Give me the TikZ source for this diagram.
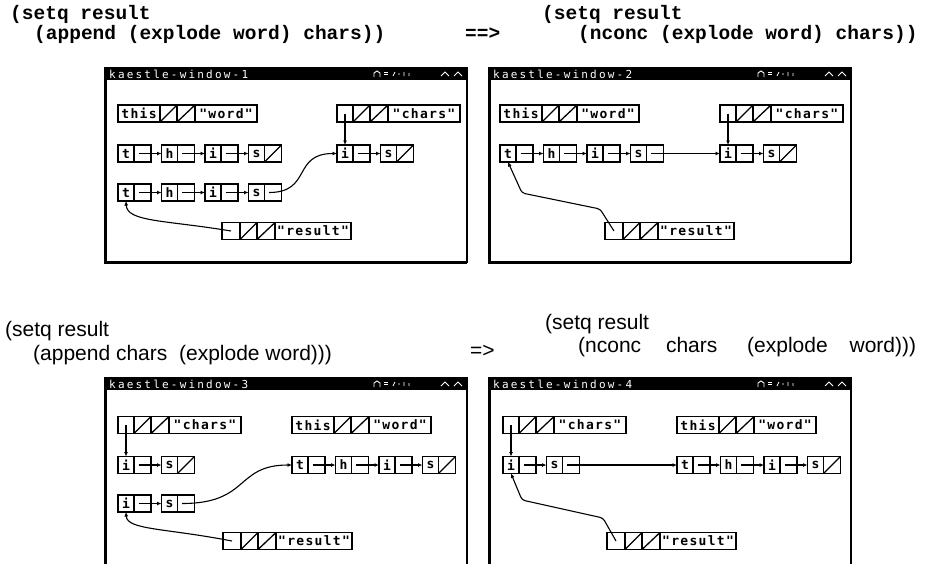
\documentclass[tikz,border=0pt]{standalone}
\usepackage{fontspec}
\setmainfont{Liberation Sans}
\newfontfamily\codefont{Liberation Mono}
\newfontfamily\cellfont[LetterSpace=10]{DejaVu Sans Mono}
\newfontfamily\barfont[LetterSpace=20]{DejaVu Sans Mono}
\usetikzlibrary{arrows.meta}

\tikzset{
  box/.style={draw, rectangle, line width=1.4pt, inner sep=0pt, outer sep=0pt,
    minimum height=17pt, font=\cellfont\fontsize{13}{13}\selectfont\bfseries},
  carbox/.style={box, minimum width=16pt},
  cdrbox/.style={box, minimum width=17pt},
  slashed/.style={path picture={\draw[line width=1.3pt]
      (path picture bounding box.south west) -- (path picture bounding box.north east);}},
  ptr/.style={line width=1.1pt, -{Latex[length=4.5pt,width=4pt]}},
  codetxt/.style={inner sep=0pt, anchor=base west,
    font=\codefont\fontsize{19.5}{20}\selectfont\bfseries},
  lisptxt/.style={inner sep=0pt, anchor=base west, font=\fontsize{21}{24}\selectfont},
  bartxt/.style={inner sep=0pt, anchor=west, text=white,
    font=\barfont\fontsize{11}{11}\selectfont},
}

% window frame: left, top, right, bottom, title node name, title
\newcommand\winframe[6]{%
  \draw[line width=1.8pt] (#1,#2) rectangle (#3,#4);
  \draw[line width=3pt] (#1,#2) -- (#1,#4) -- (#3,#4);
  \fill (#1,#2) rectangle (#3,#2+12);
  \node[bartxt] (#5) at (#1+4,#2+6.5) {#6};
  \draw[white, line width=0.9pt] (#3-93,#2+9) -- (#3-93,#2+5) -- (#3-90,#2+3)
       -- (#3-87,#2+5) -- (#3-87,#2+9);
  \draw[white, line width=0.8pt] (#3-83,#2+4) -- (#3-79,#2+4)
       (#3-83,#2+6) -- (#3-79,#2+6);
  \draw[white, line width=0.8pt] (#3-74,#2+8) -- (#3-72,#2+4)
       (#3-68,#2+5) -- (#3-68,#2+7) (#3-63,#2+4) -- (#3-63,#2+8)
       (#3-58,#2+5) -- (#3-58,#2+8);
  \draw[white, line width=0.9pt] (#3-26,#2+8) -- (#3-22,#2+4) -- (#3-18,#2+8)
       (#3-13,#2+8) -- (#3-9,#2+4) -- (#3-5,#2+8);
}

% cons cell: name, x, y, car text, extra cdr options
\newcommand\cons[5]{%
  \node[carbox, anchor=west] (#1) at (#2,#3) {#4};
  \node[cdrbox, #5, anchor=west] (#1d) at (#1.east) {};
}

% symbol: name, x, y, first width, first text, pname width, pname text
\newcommand\symbox[7]{%
  \node[box, minimum width=#4pt, anchor=west] (#1) at (#2,#3) {#5};
  \node[box, slashed, minimum width=17pt, anchor=west] (#1v) at (#1.east) {};
  \node[box, slashed, minimum width=18pt, anchor=west] (#1f) at (#1v.east) {};
  \node[box, minimum width=#6pt, anchor=west] (#1p) at (#1f.east) {#7};
}

\begin{document}
\begin{tikzpicture}[x=1pt,y=-1pt]
\useasboundingbox (0,0) rectangle (925,563);
\clip (0,0) rectangle (925,563);

% ---------- headings ----------
\node[codetxt] (hA1) at (10,19) {(setq result};
\node[codetxt] (hA2) at (34,39) {(append (explode word) chars))};
\node[codetxt] (hArr) at (465,39) {==>};
\node[codetxt] (hB1) at (542,19) {(setq result};
\node[codetxt] (hB2) at (578,39) {(nconc (explode word) chars))};

\node[lisptxt] (hC1) at (5,336) {(setq result};
\node[lisptxt] (hC2) at (33,360) {(append chars\ \ (explode word)))};
\node[lisptxt] (hDarr) at (470,357) {=>};
\node[lisptxt] (hD1) at (545,329) {(setq result};
\node[lisptxt] (hD2) at (578,352) {(nconc\hspace{19pt} chars\hspace{24pt} (explode\hspace{16pt} word)))};

% ---------- window 1: append (explode word) chars ----------
\winframe{105}{68}{467}{262}{wAtitle}{kaestle-window-1}
\symbox{wAthis}{118}{113.5}{42}{this}{62}{"word"}
\symbox{wAchr}{337}{113.5}{16}{}{72}{"chars"}
\cons{wAa1}{118}{153.5}{t}{}
\cons{wAa2}{161.5}{153.5}{h}{}
\cons{wAa3}{205}{153.5}{i}{}
\cons{wAa4}{248.5}{153.5}{s}{slashed}
\cons{wAc1}{337}{153.5}{i}{}
\cons{wAc2}{380.5}{153.5}{s}{slashed}
\cons{wAb1}{118}{192.5}{t}{}
\cons{wAb2}{161.5}{192.5}{h}{}
\cons{wAb3}{205}{192.5}{i}{}
\cons{wAb4}{248.5}{192.5}{s}{}
\symbox{wAres}{222}{231}{18}{}{76}{"result"}
\draw[ptr] ([xshift=-4pt]wAa1d.center) -- (wAa2.west);
\draw[ptr] ([xshift=-4pt]wAa2d.center) -- (wAa3.west);
\draw[ptr] ([xshift=-4pt]wAa3d.center) -- (wAa4.west);
\draw[ptr] ([xshift=-4pt]wAc1d.center) -- (wAc2.west);
\draw[ptr] ([xshift=-4pt]wAb1d.center) -- (wAb2.west);
\draw[ptr] ([xshift=-4pt]wAb2d.center) -- (wAb3.west);
\draw[ptr] ([xshift=-4pt]wAb3d.center) -- (wAb4.west);
\draw[ptr] (wAchr.center) -- (wAc1.north);
\draw[ptr] ([xshift=-4pt]wAb4d.center) .. controls (312,192.5) and (292,153.5) .. (wAc1.west);
\draw[ptr] (wAres.center) .. controls (165,220) and (127,222) .. (wAb1.south);

% ---------- window 2: nconc (explode word) chars ----------
\winframe{489}{68}{851}{262}{wBtitle}{kaestle-window-2}
\symbox{wBthis}{500}{113.5}{42}{this}{62}{"word"}
\symbox{wBchr}{720}{113.5}{16}{}{72}{"chars"}
\cons{wBa1}{500}{153.5}{t}{}
\cons{wBa2}{543.5}{153.5}{h}{}
\cons{wBa3}{587}{153.5}{i}{}
\cons{wBa4}{630.5}{153.5}{s}{}
\cons{wBc1}{720}{153.5}{i}{}
\cons{wBc2}{763.5}{153.5}{s}{slashed}
\symbox{wBres}{605}{231}{18}{}{76}{"result"}
\draw[ptr] ([xshift=-4pt]wBa1d.center) -- (wBa2.west);
\draw[ptr] ([xshift=-4pt]wBa2d.center) -- (wBa3.west);
\draw[ptr] ([xshift=-4pt]wBa3d.center) -- (wBa4.west);
\draw[ptr] ([xshift=-4pt]wBa4d.center) -- (wBc1.west);
\draw[ptr] ([xshift=-4pt]wBc1d.center) -- (wBc2.west);
\draw[ptr] (wBchr.center) -- (wBc1.north);
\draw[ptr, rounded corners=3pt] (wBres.center) -- (600,209) -- (522,193) -- (wBa1.south);

% ---------- window 3: append chars (explode word) ----------
\winframe{105}{378}{467}{572}{wCtitle}{kaestle-window-3}
\symbox{wCchr}{118}{425}{16}{}{72}{"chars"}
\symbox{wCthis}{292}{425}{42}{this}{62}{"word"}
\cons{wCc1}{118}{465}{i}{}
\cons{wCc2}{161.5}{465}{s}{slashed}
\cons{wCa1}{292}{465}{t}{}
\cons{wCa2}{335.5}{465}{h}{}
\cons{wCa3}{379}{465}{i}{}
\cons{wCa4}{422.5}{465}{s}{slashed}
\cons{wCb1}{118}{503.5}{i}{}
\cons{wCb2}{161.5}{503.5}{s}{}
\symbox{wCres}{223}{541}{18}{}{76}{"result"}
\draw[ptr] ([xshift=-4pt]wCc1d.center) -- (wCc2.west);
\draw[ptr] ([xshift=-4pt]wCa1d.center) -- (wCa2.west);
\draw[ptr] ([xshift=-4pt]wCa2d.center) -- (wCa3.west);
\draw[ptr] ([xshift=-4pt]wCa3d.center) -- (wCa4.west);
\draw[ptr] ([xshift=-4pt]wCb1d.center) -- (wCb2.west);
\draw[ptr] (wCchr.center) -- (wCc1.north);
\draw[ptr] ([xshift=-4pt]wCb2d.center) .. controls (250,503.5) and (235,465) .. (wCa1.west);
\draw[ptr] (wCres.center) .. controls (165,528) and (127,530) .. (wCb1.south);

% ---------- window 4: nconc chars (explode word) ----------
\winframe{489}{378}{851}{572}{wDtitle}{kaestle-window-4}
\symbox{wDchr}{503}{425}{16}{}{72}{"chars"}
\symbox{wDthis}{677}{425}{42}{this}{62}{"word"}
\cons{wDc1}{503}{465}{i}{}
\cons{wDc2}{546.5}{465}{s}{}
\cons{wDa1}{677}{465}{t}{}
\cons{wDa2}{720.5}{465}{h}{}
\cons{wDa3}{764}{465}{i}{}
\cons{wDa4}{807.5}{465}{s}{slashed}
\symbox{wDres}{607}{541}{18}{}{76}{"result"}
\draw[ptr] ([xshift=-4pt]wDc1d.center) -- (wDc2.west);
\draw[ptr] ([xshift=-4pt]wDc2d.center) -- (wDa1.west);
\draw[ptr] ([xshift=-4pt]wDa1d.center) -- (wDa2.west);
\draw[ptr] ([xshift=-4pt]wDa2d.center) -- (wDa3.west);
\draw[ptr] ([xshift=-4pt]wDa3d.center) -- (wDa4.west);
\draw[ptr] (wDchr.center) -- (wDc1.north);
\draw[ptr, rounded corners=3pt] (wDres.center) -- (603,518) -- (522,500) -- (wDc1.south);

\end{tikzpicture}
\end{document}
